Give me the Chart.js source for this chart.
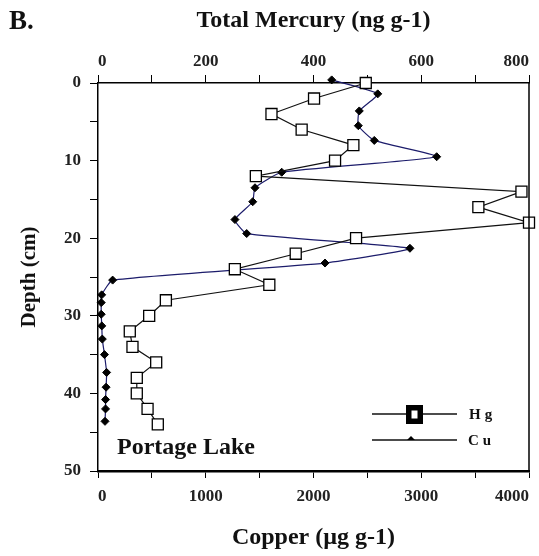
<!DOCTYPE html>
<html><head><meta charset="utf-8">
<script src="https://cdn.jsdelivr.net/npm/chart.js@4.4.1/dist/chart.umd.min.js"></script>
<style>html,body{margin:0;padding:0;background:#fff}#wrap{width:539px;height:556px;position:relative}</style>
</head><body><div id="wrap"><canvas id="c" width="539" height="556"></canvas></div>
<script>
// Total mercury (ng g-1) by depth (cm)
const hgDepths = [0, 2, 4, 6, 8, 10, 12, 14, 16, 18, 20, 22, 24, 26, 28, 30, 32, 34, 36, 38, 40, 42, 44];
const hgValues = [497, 401, 322, 378, 474, 440, 293, 786, 706, 800, 479, 367, 254, 318, 126, 95, 59, 64, 108, 72, 72, 92, 111];
// Copper (ug g-1) by depth (cm)
const cuDepths = [-0.4, 1.4, 3.6, 5.5, 7.4, 9.5, 11.5, 13.5, 15.3, 17.6, 19.4, 21.3, 23.2, 25.4, 27.3, 28.3, 29.8, 31.3, 33.0, 35.0, 37.3, 39.2, 40.8, 42.0, 43.6];
const cuValues = [2169, 2596, 2425, 2416, 2564, 3143, 1705, 1457, 1436, 1271, 1380, 2895, 2107, 136, 34, 30, 30, 35, 40, 60, 80, 75, 70, 70, 65];
// tick labels
const hgTickLabels = [0, 200, 400, 600, 800];
const cuTickLabels = [0, 1000, 2000, 3000, 4000];
const depthTickLabels = [0, 10, 20, 30, 40, 50];

const SERIF = '"Liberation Serif", "Times New Roman", serif';
const tickFont = {family: SERIF, size: 17, weight: 'bold'};

const decor = {
  id: 'decor',
  afterDraw(chart) {
    const {ctx, chartArea: a} = chart;
    ctx.save();
    ctx.strokeStyle = '#000';
    ctx.lineWidth = 1.5;
    ctx.beginPath(); ctx.moveTo(a.right, a.top); ctx.lineTo(a.right, a.bottom); ctx.stroke();
    ctx.fillStyle = '#111';
    ctx.textBaseline = 'middle';
    ctx.textAlign = 'left';
    ctx.font = 'bold 27px ' + SERIF;
    ctx.fillText('B.', 9, 22);
    ctx.font = 'bold 24px ' + SERIF;
    ctx.fillText('Portage Lake', 117, 448);
    // legend
    ctx.lineWidth = 1.5;
    ctx.strokeStyle = '#111';
    ctx.beginPath(); ctx.moveTo(372, 414); ctx.lineTo(457, 414); ctx.stroke();
    ctx.beginPath(); ctx.moveTo(372, 440); ctx.lineTo(457, 440); ctx.stroke();
    ctx.fillStyle = '#000';
    ctx.fillRect(406, 405, 17, 19);
    ctx.fillStyle = '#fff';
    ctx.fillRect(411.5, 410.5, 6, 8);
    ctx.fillStyle = '#000';
    ctx.beginPath(); ctx.moveTo(407, 440); ctx.lineTo(411, 436); ctx.lineTo(415, 440); ctx.closePath(); ctx.fill();
    ctx.fillStyle = '#111';
    ctx.font = 'bold 15px ' + SERIF;
    ctx.letterSpacing = '4px';
    ctx.fillText('Hg', 469, 415);
    ctx.fillText('Cu', 468, 441);
    ctx.restore();
  }
};

new Chart(document.getElementById('c'), {
  type: 'scatter',
  data: {
    datasets: [
      {
        label: 'Hg',
        data: hgValues.map((v, i) => ({x: v, y: hgDepths[i]})),
        xAxisID: 'x2', yAxisID: 'y',
        showLine: true,
        borderColor: '#111', borderWidth: 1.2,
        pointStyle: 'rect', pointRadius: 7.8, pointHoverRadius: 7.8,
        pointBackgroundColor: '#fff', pointBorderColor: '#000', pointBorderWidth: 1.3,
        tension: 0, clip: false
      },
      {
        label: 'Cu',
        data: cuValues.map((v, i) => ({x: v, y: cuDepths[i]})),
        xAxisID: 'x', yAxisID: 'y',
        showLine: true,
        borderColor: '#1c1c6b', borderWidth: 1.2,
        pointStyle: 'rectRot', pointRadius: 4, pointHoverRadius: 4,
        pointBackgroundColor: '#000', pointBorderColor: '#000', pointBorderWidth: 1,
        tension: 0.15, clip: false
      }
    ]
  },
  options: {
    responsive: false,
    animation: false,
    devicePixelRatio: 1,
    layout: {padding: {left: 0, right: 10, top: 0, bottom: 0}},
    plugins: {legend: {display: false}, tooltip: {enabled: false}},
    scales: {
      y: {
        type: 'linear', position: 'left', reverse: true, min: 0, max: 50,
        afterFit(s) { s.width = 98; },
        ticks: {stepSize: 5, color: '#222', font: tickFont, padding: 9,
          callback: v => depthTickLabels.includes(v) ? String(v) : ''},
        grid: {drawOnChartArea: false, drawTicks: true, tickLength: 8, color: '#000', lineWidth: 1},
        border: {display: true, color: '#000', width: 1.5},
        title: {display: true, text: 'Depth (cm)', color: '#111',
          font: {family: SERIF, size: 21, weight: 'bold'}, padding: {top: 17, bottom: 0}}
      },
      x: {
        type: 'linear', position: 'bottom', min: 0, max: 4000,
        afterFit(s) { s.height = 85; s.paddingLeft = 0; s.paddingRight = 0; },
        ticks: {stepSize: 500, color: '#222', font: tickFont, padding: 8, align: 'inner', maxRotation: 0,
          callback: v => cuTickLabels.includes(v) ? String(v) : ''},
        grid: {drawOnChartArea: false, drawTicks: true, tickLength: 7, color: '#000', lineWidth: 1},
        border: {display: true, color: '#000', width: 2.5},
        title: {display: true, text: 'Copper (µg g-1)', color: '#111',
          font: {family: SERIF, size: 24, weight: 'bold'}, padding: {top: 0, bottom: 4}}
      },
      x2: {
        type: 'linear', position: 'top', min: 0, max: 800,
        afterFit(s) { s.height = 83; s.paddingLeft = 0; s.paddingRight = 0; },
        ticks: {stepSize: 100, color: '#222', font: tickFont, padding: 3, align: 'inner', maxRotation: 0,
          callback: v => hgTickLabels.includes(v) ? String(v) : ''},
        grid: {drawOnChartArea: false, drawTicks: true, tickLength: 8, color: '#000', lineWidth: 1},
        border: {display: true, color: '#000', width: 1.5},
        title: {display: true, text: 'Total Mercury (ng g-1)', color: '#111',
          font: {family: SERIF, size: 24, weight: 'bold'}, padding: {top: 6, bottom: 0}}
      }
    }
  },
  plugins: [decor]
});
</script>
</body></html>
